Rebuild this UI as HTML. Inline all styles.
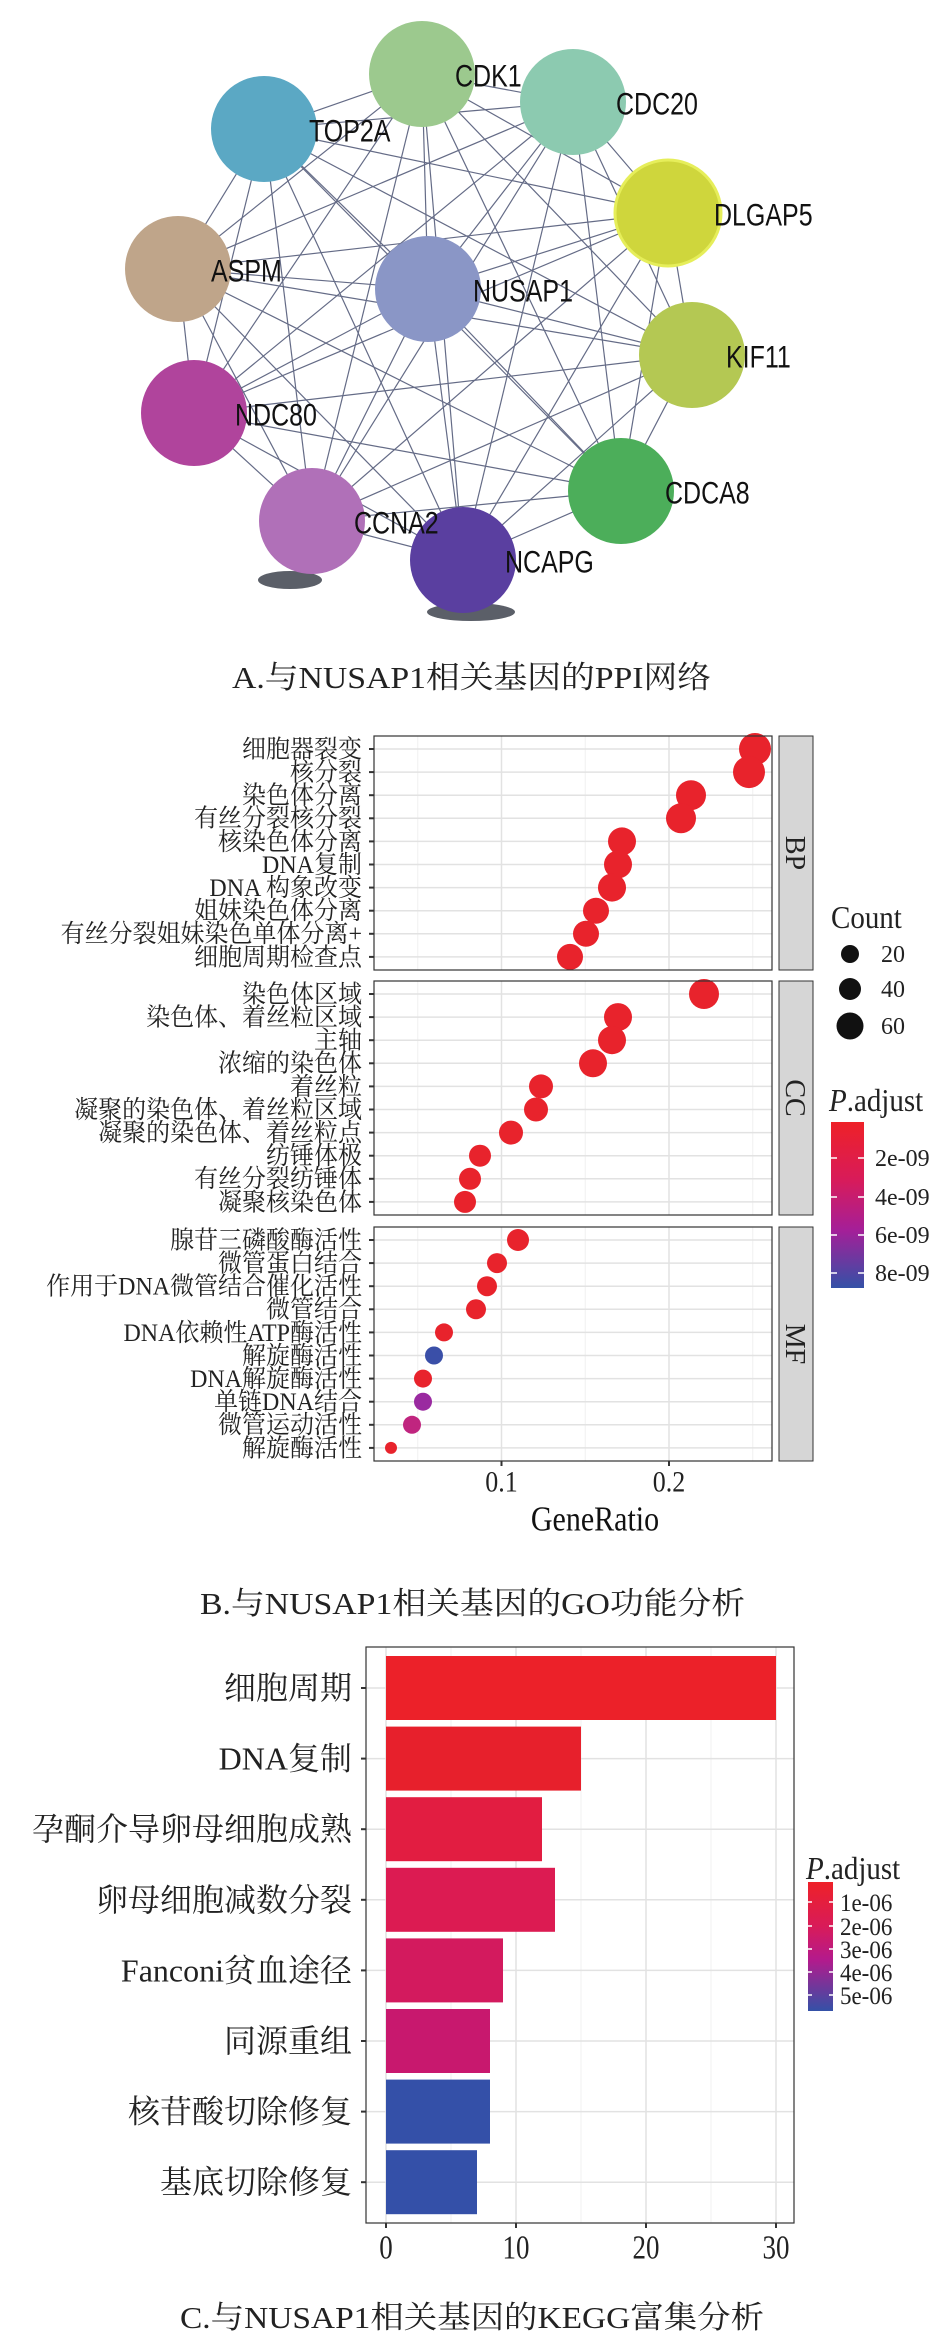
<!DOCTYPE html>
<html><head><meta charset="utf-8"><style>
html,body{margin:0;padding:0;background:#fff;}
svg{display:block;}
.sf{font-family:"Liberation Serif","Noto Serif CJK SC",serif;}
.ss{font-family:"Liberation Sans","Noto Sans CJK SC",sans-serif;}
</style></head><body>
<svg width="945" height="2344" viewBox="0 0 945 2344" xmlns="http://www.w3.org/2000/svg">
<rect width="945" height="2344" fill="#fff"/>
<g id="edges" stroke="#4a5272" stroke-width="1.2" opacity="0.85"></g>
<g id="nodes"></g>
<text class="sf" x="232" y="688" font-size="31" textLength="479" lengthAdjust="spacingAndGlyphs" fill="#222">A.与NUSAP1相关基因的PPI网络</text>
<g id="go"></g>
<text class="sf" x="200" y="1614" font-size="31" textLength="545" lengthAdjust="spacingAndGlyphs" fill="#222">B.与NUSAP1相关基因的GO功能分析</text>
<g id="kegg"></g>
<text class="sf" x="180" y="2328" font-size="31" textLength="584" lengthAdjust="spacingAndGlyphs" fill="#222">C.与NUSAP1相关基因的KEGG富集分析</text>
<defs>
<linearGradient id="cb1" x1="0" y1="0" x2="0" y2="1">
<stop offset="0" stop-color="#ee2128"/><stop offset="0.35" stop-color="#d81b5a"/><stop offset="0.65" stop-color="#a51f98"/><stop offset="1" stop-color="#3451a7"/></linearGradient>
<linearGradient id="cb2" x1="0" y1="0" x2="0" y2="1">
<stop offset="0" stop-color="#ee2128"/><stop offset="0.35" stop-color="#d81b5a"/><stop offset="0.6" stop-color="#b41a8c"/><stop offset="1" stop-color="#3451a7"/></linearGradient>
</defs>
</svg>
<script>
const NS="http://www.w3.org/2000/svg";
function el(p,t,a,txt){const e=document.createElementNS(NS,t);for(const k in a)e.setAttribute(k,a[k]);if(txt!==undefined)e.textContent=txt;p.appendChild(e);return e;}
function sy(x,y,s){return `translate(${x},${y}) scale(1,${s}) translate(${-x},${-y})`;}
const nodes=[
["CDK1",422,74,"#9cc98e",455],["CDC20",573,102,"#8ccab0",616],["TOP2A",264,129,"#5ba8c4",309],
["DLGAP5",668,213,"#cfd63c",714],["ASPM",178,269,"#bfa58a",211],["NUSAP1",428,289,"#8a96c6",473],
["KIF11",692,355,"#b4c853",726],["NDC80",194,413,"#b0449c",235],["CDCA8",621,491,"#4cae5a",665],
["CCNA2",312,521,"#b070b8",354],["NCAPG",463,560,"#5a3fa0",505]];
const E=document.getElementById('edges');
for(let i=0;i<nodes.length;i++)for(let j=i+1;j<nodes.length;j++)
 el(E,'line',{x1:nodes[i][1],y1:nodes[i][2],x2:nodes[j][1],y2:nodes[j][2]});
const N=document.getElementById('nodes');
el(N,'ellipse',{cx:290,cy:580,rx:32,ry:9,fill:"#5b5f68"});
el(N,'ellipse',{cx:471,cy:612,rx:44,ry:9,fill:"#5b5f68"});
nodes.forEach(n=>{el(N,'circle',{cx:n[1],cy:n[2],r:53,fill:n[3],stroke:n[0]=="DLGAP5"?"#e6ee5a":"none","stroke-width":3});});
nodes.forEach(n=>{el(N,'text',{x:n[4],y:n[2]+10,"font-size":25,class:"ss",fill:"#111",transform:sy(n[4],n[2],1.25)},n[0]);});
// GO
const G=document.getElementById('go');
const x0=334,sc=1675;
const panels=[[736,970],[981,1215],[1227,1461]];
const strips=["BP","CC","MF"];
const labels=[
["细胞器裂变","核分裂","染色体分离","有丝分裂核分裂","核染色体分离","DNA复制","DNA 构象改变","姐妹染色体分离","有丝分裂姐妹染色单体分离+","细胞周期检查点"],
["染色体区域","染色体、着丝粒区域","主轴","浓缩的染色体","着丝粒","凝聚的染色体、着丝粒区域","凝聚的染色体、着丝粒点","纺锤体极","有丝分裂纺锤体","凝聚核染色体"],
["腺苷三磷酸酶活性","微管蛋白结合","作用于DNA微管结合催化活性","微管结合","DNA依赖性ATP酶活性","解旋酶活性","DNA解旋酶活性","单链DNA结合","微管运动活性","解旋酶活性"]];
const px=[[755,749,691,681,622,618,612,596,586,570],[704,618,612,593,541,536,511,480,470,465],[518,497,487,476,444,434,423,423,412,391]];
const rr=[[16,16,15,15,14,14,14,13,13,13],[15,14,14,14,12,12,12,11,11,11],[11,10,10,10,9,9,9,9,9,6]];
const cols=[Array(10).fill("#e8232c"),Array(10).fill("#e8232c"),["#e8232c","#e8232c","#e8232c","#e8232c","#e8232c","#3a4fa8","#e8232c","#9a2aa0","#c0257f","#e8232c"]];
panels.forEach((p,k)=>{
 el(G,'rect',{x:374,y:p[0],width:398,height:p[1]-p[0],fill:"#fff"});
 [0.05,0.15,0.25].forEach(v=>el(G,'line',{x1:x0+v*sc,x2:x0+v*sc,y1:p[0],y2:p[1],stroke:"#f0f0f0","stroke-width":1}));
 [0.1,0.2].forEach(v=>el(G,'line',{x1:x0+v*sc,x2:x0+v*sc,y1:p[0],y2:p[1],stroke:"#e2e2e2","stroke-width":1.5}));
 for(let i=0;i<10;i++){const y=p[0]+13+i*23.1;
  el(G,'line',{x1:374,x2:772,y1:y,y2:y,stroke:"#e2e2e2","stroke-width":1.5});
  el(G,'line',{x1:369,x2:374,y1:y,y2:y,stroke:"#333","stroke-width":2});
  el(G,'text',{x:362,y:y+8,"font-size":24,"text-anchor":"end",class:"sf",fill:"#222",transform:sy(362,y,1.05)},labels[k][i]);
 }
 for(let i=0;i<10;i++){const y=p[0]+13+i*23.1;el(G,'circle',{cx:px[k][i],cy:y,r:rr[k][i],fill:cols[k][i]});}
 el(G,'rect',{x:374,y:p[0],width:398,height:p[1]-p[0],fill:"none",stroke:"#333","stroke-width":1.2});
 el(G,'rect',{x:779,y:p[0],width:34,height:p[1]-p[0],fill:"#d6d6d6",stroke:"#333","stroke-width":1});
 const cy=(p[0]+p[1])/2;
 el(G,'text',{x:796,y:cy,"font-size":28,class:"sf","text-anchor":"middle",fill:"#222",transform:`rotate(90 796 ${cy}) translate(0,10)`},strips[k]);
});
[[0.1,"0.1"],[0.2,"0.2"]].forEach(t=>{const x=x0+t[0]*sc;el(G,'line',{x1:x,x2:x,y1:1461,y2:1466,stroke:"#333","stroke-width":2});
 el(G,'text',{x:x,y:1490,"font-size":26,"text-anchor":"middle",class:"sf",fill:"#222",transform:sy(x,1481,1.15)},t[1]);});
el(G,'text',{x:595,y:1529,"font-size":30,"text-anchor":"middle",class:"sf",fill:"#111",transform:sy(595,1518,1.15)},"GeneRatio");
el(G,'text',{x:831,y:927,"font-size":29,class:"sf",fill:"#222",transform:sy(831,917,1.1)},"Count");
[[954,9,"20"],[989,11,"40"],[1026,13.5,"60"]].forEach(c=>{el(G,'circle',{cx:850,cy:c[0],r:c[1],fill:"#111"});el(G,'text',{x:881,y:c[0]+8,"font-size":24,class:"sf",fill:"#222"},c[2]);});
const pt=el(G,'text',{x:829,y:1110,"font-size":29,class:"sf",fill:"#222",transform:sy(829,1100,1.1)});
el(pt,'tspan',{"font-style":"italic"},"P");el(pt,'tspan',{},".adjust");
el(G,'rect',{x:831,y:1122,width:33,height:166,fill:"url(#cb1)"});
[[1158,"2e-09"],[1197,"4e-09"],[1235,"6e-09"],[1273,"8e-09"]].forEach(c=>{
 el(G,'line',{x1:831,x2:837,y1:c[0],y2:c[0],stroke:"#fff","stroke-width":1.5});el(G,'line',{x1:858,x2:864,y1:c[0],y2:c[0],stroke:"#fff","stroke-width":1.5});
 el(G,'text',{x:875,y:c[0]+8,"font-size":24,class:"sf",fill:"#222"},c[1]);});
// KEGG
const K=document.getElementById('kegg');
const kx0=386,ku=13.0;
el(K,'rect',{x:366,y:1647,width:428,height:576,fill:"#fff"});
for(let v=0;v<=30;v+=5){const x=kx0+v*ku;el(K,'line',{x1:x,x2:x,y1:1647,y2:2223,stroke:v%10==0?"#e2e2e2":"#f0f0f0","stroke-width":v%10==0?1.5:1});}
const kl=["细胞周期","DNA复制","孕酮介导卵母细胞成熟","卵母细胞减数分裂","Fanconi贫血途径","同源重组","核苷酸切除修复","基底切除修复"];
const kv=[30,15,12,13,9,8,8,7];
const kc=["#ec2129","#e7202c","#e21d41","#dc1b52","#d31a5e","#c8186e","#3450a8","#3450a8"];
for(let i=0;i<8;i++){const cy=1688+i*70.6;
 el(K,'line',{x1:366,x2:794,y1:cy,y2:cy,stroke:"#e2e2e2","stroke-width":1.5});
 el(K,'line',{x1:361,x2:366,y1:cy,y2:cy,stroke:"#333","stroke-width":2});
 el(K,'rect',{x:kx0,y:cy-32,width:kv[i]*ku,height:64,fill:kc[i]});
 el(K,'text',{x:352,y:cy+11,"font-size":32,"text-anchor":"end",class:"sf",fill:"#222",transform:sy(352,cy,1.0)},kl[i]);
}
el(K,'rect',{x:366,y:1647,width:428,height:576,fill:"none",stroke:"#333","stroke-width":1.2});
[0,10,20,30].forEach(v=>{const x=kx0+v*ku;el(K,'line',{x1:x,x2:x,y1:2223,y2:2228,stroke:"#333","stroke-width":2});
 el(K,'text',{x:x,y:2256,"font-size":27,"text-anchor":"middle",class:"sf",fill:"#222",transform:sy(x,2245,1.25)},String(v));});
const pt2=el(K,'text',{x:806,y:1878,"font-size":29,class:"sf",fill:"#222",transform:sy(806,1868,1.1)});
el(pt2,'tspan',{"font-style":"italic"},"P");el(pt2,'tspan',{},".adjust");
el(K,'rect',{x:808,y:1882,width:25,height:129,fill:"url(#cb2)"});
[[1902,"1e-06"],[1926,"2e-06"],[1949,"3e-06"],[1972,"4e-06"],[1995,"5e-06"]].forEach(c=>{
 el(K,'line',{x1:808,x2:812,y1:c[0],y2:c[0],stroke:"#fff","stroke-width":1.5});el(K,'line',{x1:829,x2:833,y1:c[0],y2:c[0],stroke:"#fff","stroke-width":1.5});
 el(K,'text',{x:840,y:c[0]+8,"font-size":23,class:"sf",fill:"#222",transform:sy(840,c[0],1.1)},c[1]);});
</script>
</body></html>
